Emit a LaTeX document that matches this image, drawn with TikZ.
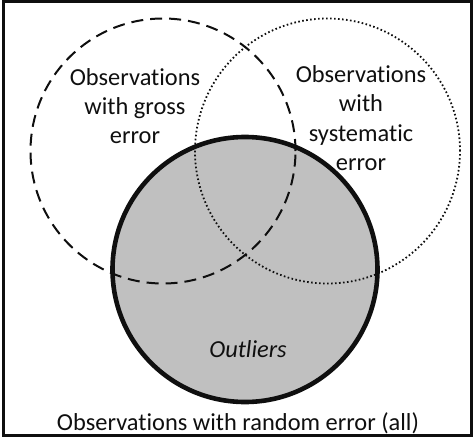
\documentclass[tikz,border=0pt]{standalone}
\usepackage{fontspec}
\setmainfont{Carlito}[RawFeature={-liga;-calt;-clig;-dlig}]
\usepackage{tikz}
\usetikzlibrary{positioning}
\usepackage{xcolor}
\definecolor{outgray}{RGB}{192,192,192}
\definecolor{inkblack}{RGB}{15,15,15}
\tikzset{
  setcircle/.style={circle,minimum size=265pt,inner sep=0pt,line width=2pt,draw=inkblack},
  grossset/.style={setcircle,dash pattern=on 12pt off 7pt},
  sysset/.style={setcircle,dash pattern=on 1.6pt off 2.4pt,line width=1.8pt},
  outset/.style={setcircle,fill=outgray,line width=4.6pt},
  setlabel/.style={align=center,inner sep=0pt,text=inkblack,font=\fontsize{24.4}{29.3}\selectfont}
}
\begin{document}
\begin{tikzpicture}[x=1pt,y=-1pt]
  \useasboundingbox (0,0) rectangle (474,439);
  \draw[line width=3pt,draw=inkblack] (3,1.5) rectangle (471.5,435);

  \node[outset] (outl) at (245,269.5) {};
  \node[grossset] (gross) at (163,151) {};
  \node[sysset] (syst) at (327.5,151) {};

  \node[setlabel] (grosstxt) at (135,106) {Observations\\with gross\\error};
  \node[setlabel] (systxt) at (361,118) {Observations\\with\\systematic\\error};
  \node[setlabel,font=\fontsize{24.4}{29.3}\selectfont\itshape] (outtxt) at (248,349) {Outliers};
  \node[setlabel] (alltxt) at (238,423) {Observations with random error (all)};
\end{tikzpicture}
\end{document}
